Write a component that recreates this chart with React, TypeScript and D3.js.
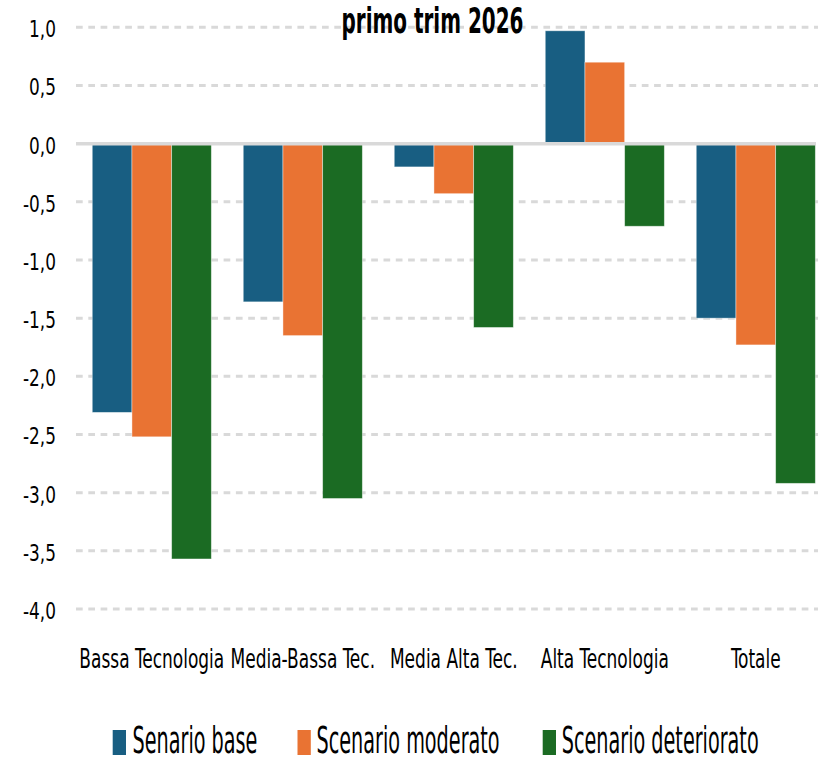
import React, { useLayoutEffect, useRef, useState } from "react";
import * as d3 from "d3";

const categories = ["Bassa Tecnologia", "Media-Bassa Tec.", "Media Alta Tec.", "Alta Tecnologia", "Totale"];
const seriesNames = ["Senario base", "Scenario moderato", "Scenario deteriorato"];
const senarioBase = [-2.31, -1.36, -0.2, 0.97, -1.5];
const scenarioModerato = [-2.52, -1.65, -0.43, 0.7, -1.73];
const scenarioDeteriorato = [-3.57, -3.05, -1.58, -0.71, -2.92];
const yTicks = [1.0, 0.5, 0.0, -0.5, -1.0, -1.5, -2.0, -2.5, -3.0, -3.5, -4.0];
const title = "primo trim 2026";

const colors = ["#185e82", "#e97333", "#1b6b23"];
const FONT = "'Liberation Sans Narrow', 'Arial Narrow', 'DejaVu Sans Condensed', 'Liberation Sans', sans-serif";

// text style groups: reference string and its width in the picture
const STYLES: Record<string, { size: number; weight: string; ref: string; width: number }> = {
  tick: { size: 23.3, weight: "normal", ref: "-4,0", width: 33 },
  cat: { size: 26, weight: "normal", ref: "Bassa Tecnologia", width: 145 },
  title: { size: 35.5, weight: "bold", ref: "primo trim 2026", width: 182 },
  legend: { size: 37, weight: "normal", ref: "Scenario deteriorato", width: 197 },
};

function SText({ x, y, sx, kind, anchor = "start", children }: any) {
  const st = STYLES[kind];
  return (
    <text
      transform={`translate(${x},${y}) scale(${sx},1)`}
      textAnchor={anchor}
      fontFamily={FONT}
      fontSize={st.size}
      fontWeight={st.weight}
      fill="#000"
    >
      {children}
    </text>
  );
}

export default function App() {
  const W = 818;
  const H = 758;
  const seriesValues = [senarioBase, scenarioModerato, scenarioDeteriorato];
  const measureRefs = useRef<Record<string, SVGTextElement | null>>({});
  const [scales, setScales] = useState<Record<string, number>>({ tick: 1, cat: 1, title: 1, legend: 1 });

  useLayoutEffect(() => {
    const next: Record<string, number> = {};
    Object.keys(STYLES).forEach((k) => {
      const el = measureRefs.current[k];
      const w = el ? el.getComputedTextLength() : 0;
      next[k] = w > 0 ? STYLES[k].width / w : 1;
    });
    setScales(next);
  }, []);

  const x0 = d3.scaleBand<string>().domain(categories).range([76.3, 831.3]).padding(0);
  const x1 = d3
    .scaleBand<string>()
    .domain(seriesNames)
    .range([0, x0.bandwidth()])
    .paddingInner(0)
    .paddingOuter(0.402);
  const y = d3.scaleLinear().domain([-4, 1]).range([609, 27.3]);
  const fmt = (v: number) => d3.format(".1f")(v).replace(".", ",").replace("−", "-");

  const legendItems = [
    { sq: 112.7, tx: 132.5 },
    { sq: 297.5, tx: 316.5 },
    { sq: 542.7, tx: 561.7 },
  ];

  return (
    <svg width={W} height={H} style={{ position: "absolute", left: 0, top: 0, background: "#fff" }}>
      <rect x={0} y={0} width={W} height={H} fill="#fff" />
      {/* hidden measurement texts */}
      <g visibility="hidden">
        {Object.keys(STYLES).map((k) => (
          <text
            key={k}
            ref={(el) => {
              measureRefs.current[k] = el;
            }}
            x={0}
            y={-100}
            fontFamily={FONT}
            fontSize={STYLES[k].size}
            fontWeight={STYLES[k].weight}
          >
            {STYLES[k].ref}
          </text>
        ))}
      </g>
      {/* gridlines */}
      {yTicks
        .filter((t) => t !== 0)
        .map((t) => (
          <line
            key={t}
            x1={76}
            x2={W}
            y1={y(t)}
            y2={y(t)}
            stroke="#d9d9d9"
            strokeWidth={3}
            strokeDasharray="6.7 5.6"
          />
        ))}
      {/* bars */}
      {categories.map((c, i) => (
        <g key={c} transform={`translate(${x0(c)},0)`}>
          {seriesNames.map((s, j) => {
            const v = seriesValues[j][i];
            return (
              <rect
                key={s}
                x={x1(s)}
                width={x1.bandwidth()}
                y={Math.min(y(v), y(0))}
                height={Math.abs(y(v) - y(0))}
                fill={colors[j]}
                stroke="#ffffff"
                strokeOpacity={0.5}
                strokeWidth={0.8}
              />
            );
          })}
        </g>
      ))}
      {/* zero line */}
      <line x1={76} x2={816} y1={y(0)} y2={y(0)} stroke="#d9d9d9" strokeWidth={3.5} />
      {/* y tick labels */}
      {yTicks.map((t) => (
        <SText key={t} x={56} y={y(t) + 10} sx={scales.tick} kind="tick" anchor="end">
          {fmt(t)}
        </SText>
      ))}
      {/* category labels */}
      {categories.map((c) => (
        <SText key={c} x={(x0(c) as number) + x0.bandwidth() / 2} y={668} sx={scales.cat} kind="cat" anchor="middle">
          {c}
        </SText>
      ))}
      {/* title */}
      <SText x={432.5} y={33.3} sx={scales.title} kind="title" anchor="middle">
        {title}
      </SText>
      {/* legend */}
      {seriesNames.map((s, j) => (
        <g key={s}>
          <rect x={legendItems[j].sq} y={730} width={13.3} height={25} fill={colors[j]} />
          <SText x={legendItems[j].tx} y={753} sx={scales.legend} kind="legend">
            {s}
          </SText>
        </g>
      ))}
    </svg>
  );
}
